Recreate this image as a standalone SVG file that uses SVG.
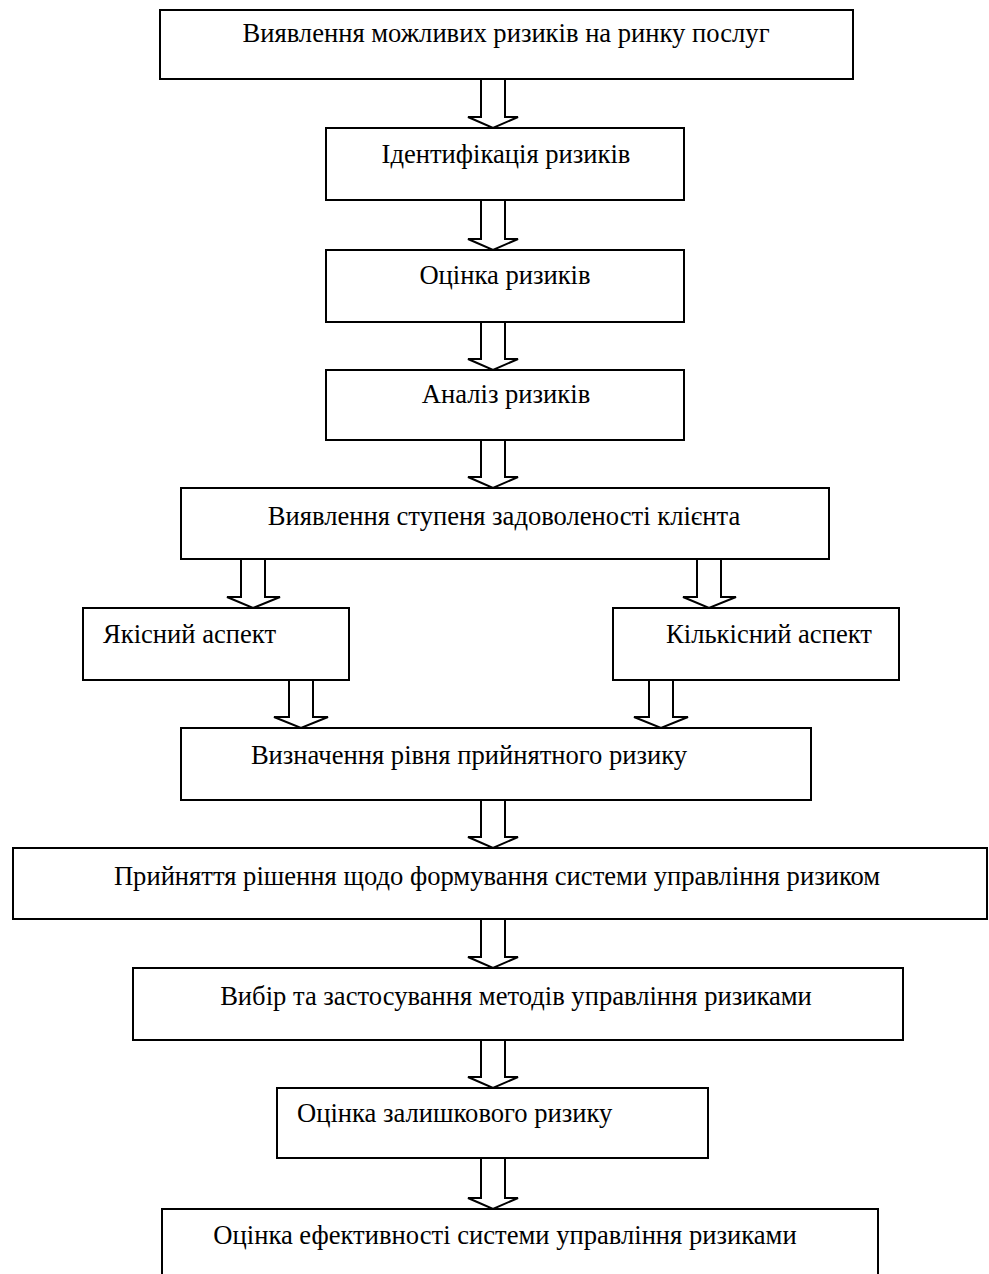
<svg xmlns="http://www.w3.org/2000/svg" width="989" height="1274" viewBox="0 0 989 1274">
<style>
.box{fill:#fff;stroke:#000;stroke-width:2}
.arr{fill:#fff;stroke:#000;stroke-width:2;stroke-linejoin:miter}
text{font-family:"Liberation Serif","Times New Roman",serif;font-size:26.6px;fill:#000}
.c{text-anchor:middle}
</style>
<rect width="989" height="1274" fill="#fff"/>
<g id="connectors">
<polygon class="arr" points="481,79 505,79 505,117 518,117 493,128 468,117 481,117"/>
<polygon class="arr" points="481,200 505,200 505,239 518,239 493,250 468,239 481,239"/>
<polygon class="arr" points="481,322 505,322 505,359 518,359 493,370 468,359 481,359"/>
<polygon class="arr" points="481,440 505,440 505,477 518,477 493,488 468,477 481,477"/>
<polygon class="arr" points="241,559 265,559 265,597 280,597 253,608 227,597 241,597"/>
<polygon class="arr" points="697,559 721,559 721,597 736,597 709,608 683,597 697,597"/>
<polygon class="arr" points="289,680 313,680 313,717 328,717 301,728 274,717 289,717"/>
<polygon class="arr" points="649,680 673,680 673,717 688,717 661,728 634,717 649,717"/>
<polygon class="arr" points="481,800 505,800 505,837 518,837 493,848 468,837 481,837"/>
<polygon class="arr" points="481,919 505,919 505,957 518,957 493,968 468,957 481,957"/>
<polygon class="arr" points="481,1040 505,1040 505,1077 518,1077 493,1088 468,1077 481,1077"/>
<polygon class="arr" points="481,1158 505,1158 505,1198 518,1198 493,1209 468,1198 481,1198"/>
</g>
<g id="n1"><rect class="box" x="160" y="10" width="693" height="69"/><text class="c" x="506" y="42">Виявлення можливих ризиків на ринку послуг</text></g>
<g id="n2"><rect class="box" x="326" y="128" width="358" height="72"/><text class="c" x="506" y="163">Ідентифікація ризиків</text></g>
<g id="n3"><rect class="box" x="326" y="250" width="358" height="72"/><text class="c" x="505" y="284">Оцінка ризиків</text></g>
<g id="n4"><rect class="box" x="326" y="370" width="358" height="70"/><text class="c" x="506" y="403">Аналіз ризиків</text></g>
<g id="n5"><rect class="box" x="181" y="488" width="648" height="71"/><text class="c" x="504" y="525">Виявлення ступеня задоволеності клієнта</text></g>
<g id="n6"><rect class="box" x="83" y="608" width="266" height="72"/><text x="103" y="643">Якісний аспект</text></g>
<g id="n7"><rect class="box" x="613" y="608" width="286" height="72"/><text class="c" x="769" y="643">Кількісний аспект</text></g>
<g id="n8"><rect class="box" x="181" y="728" width="630" height="72"/><text class="c" x="469" y="764">Визначення рівня прийнятного ризику</text></g>
<g id="n9"><rect class="box" x="13" y="848" width="974" height="71"/><text class="c" x="497" y="885">Прийняття рішення щодо формування системи управління ризиком</text></g>
<g id="n10"><rect class="box" x="133" y="968" width="770" height="72"/><text class="c" x="516" y="1005">Вибір та застосування методів управління ризиками</text></g>
<g id="n11"><rect class="box" x="277" y="1088" width="431" height="70"/><text x="297" y="1122">Оцінка залишкового ризику</text></g>
<g id="n12"><path class="box" d="M162,1290 V1209 H878 V1290"/><text class="c" x="505" y="1244">Оцінка ефективності системи управління ризиками</text></g>
</svg>
